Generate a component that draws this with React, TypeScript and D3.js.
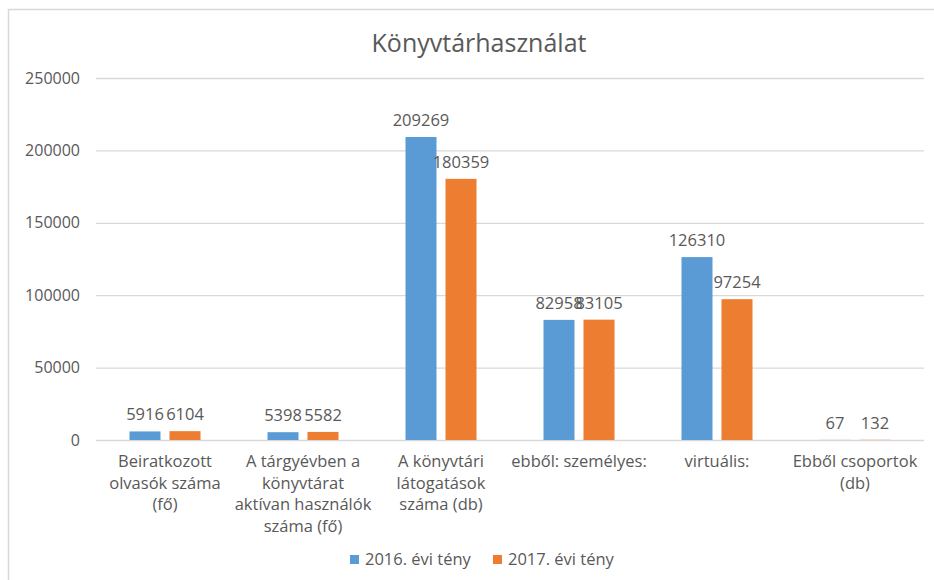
import React, { useEffect, useRef } from 'react'
import * as d3 from 'd3'

// kategóriák (sortöréssel, ahogy az ábrán)
const categories = [
  ['Beiratkozott', 'olvasók száma', '(fő)'],
  ['A tárgyévben a', 'könyvtárat', 'aktívan használók', 'száma (fő)'],
  ['A könyvtári', 'látogatások', 'száma (db)'],
  ['ebből: személyes:'],
  ['virtuális:'],
  ['Ebből csoportok', '(db)'],
]
const series = ['2016. évi tény', '2017. évi tény']
const values2016 = [5916, 5398, 209269, 82958, 126310, 67]
const values2017 = [6104, 5582, 180359, 83105, 97254, 132]
const yTicks = [0, 50000, 100000, 150000, 200000, 250000]
const colors = ['#5B9BD5', '#ED7D31']

const W = 934, H = 580
const FONT = '"Open Sans", "Liberation Sans", sans-serif'
const TEXT = '#595959'
const FS = 16.5

export default function App() {
  const ref = useRef<SVGSVGElement>(null)

  useEffect(() => {
    const svg = d3.select(ref.current)
    svg.selectAll('*').remove()

    const left = 96, right = 924, top = 78, bottom = 440

    // keret (csak bal és felső él látszik)
    svg.append('line').attr('x1', 8.5).attr('x2', 8.5).attr('y1', 9).attr('y2', H)
      .attr('stroke', '#D9D9D9').attr('stroke-width', 1.5)
    svg.append('line').attr('x1', 8).attr('x2', W).attr('y1', 9.5).attr('y2', 9.5)
      .attr('stroke', '#D9D9D9').attr('stroke-width', 1.5)

    svg.append('text')
      .attr('x', 479).attr('y', 52)
      .attr('text-anchor', 'middle')
      .attr('font-size', 25).attr('fill', TEXT)
      .text('Könyvtárhasználat')

    const x0 = d3.scaleBand<number>().domain(d3.range(categories.length)).range([left, right])
    const x1 = d3.scaleBand<number>().domain([0, 1])
      .range([(x0.bandwidth() - 71) / 2, (x0.bandwidth() + 71) / 2]).paddingInner(0.225)
    const y = d3.scaleLinear().domain([0, 250000]).range([bottom, top])

    const g = svg.append('g')
    g.selectAll('.grid').data(yTicks).enter().append('line')
      .attr('x1', left).attr('x2', right)
      .attr('y1', d => y(d) + 0.5).attr('y2', d => y(d) + 0.5)
      .attr('stroke', '#D9D9D9').attr('stroke-width', 1.3)
    g.selectAll('.ytick').data(yTicks).enter().append('text')
      .attr('x', 80).attr('y', d => y(d)).attr('dy', '0.35em')
      .attr('text-anchor', 'end').attr('font-size', 16).attr('fill', TEXT)
      .text(d => String(d))

    const seriesVals = [values2016, values2017]
    seriesVals.forEach((vals, s) => {
      const sg = g.append('g')
      sg.selectAll('rect').data(vals).enter().append('rect')
        .attr('x', (_, i) => x0(i)! + x1(s)!)
        .attr('y', d => y(d))
        .attr('width', x1.bandwidth())
        .attr('height', d => bottom - y(d))
        .attr('fill', colors[s])
      sg.selectAll('text').data(vals).enter().append('text')
        .attr('x', (_, i) => x0(i)! + x1(s)! + x1.bandwidth() / 2)
        .attr('y', d => y(d) - 11)
        .attr('text-anchor', 'middle').attr('font-size', FS).attr('fill', TEXT)
        .text(d => String(d))
    })

    // kategóriafeliratok
    categories.forEach((lines, i) => {
      const t = g.append('text')
        .attr('text-anchor', 'middle').attr('font-size', FS).attr('fill', TEXT)
      lines.forEach((ln, j) => {
        t.append('tspan')
          .attr('x', x0(i)! + x0.bandwidth() / 2)
          .attr('y', 467 + j * 21.5)
          .text(ln)
      })
    })

    // jelmagyarázat
    const legendX = [350, 493]
    series.forEach((name, s) => {
      svg.append('rect').attr('x', legendX[s]).attr('y', 555).attr('width', 9).attr('height', 9)
        .attr('fill', colors[s])
      svg.append('text').attr('x', legendX[s] + 15).attr('y', 565)
        .attr('font-size', FS).attr('fill', TEXT).text(name)
    })
  }, [])

  return (
    <svg ref={ref} width={W} height={H}
      style={{ position: 'absolute', left: 0, top: 0, fontFamily: FONT, background: '#fff' }} />
  )
}
